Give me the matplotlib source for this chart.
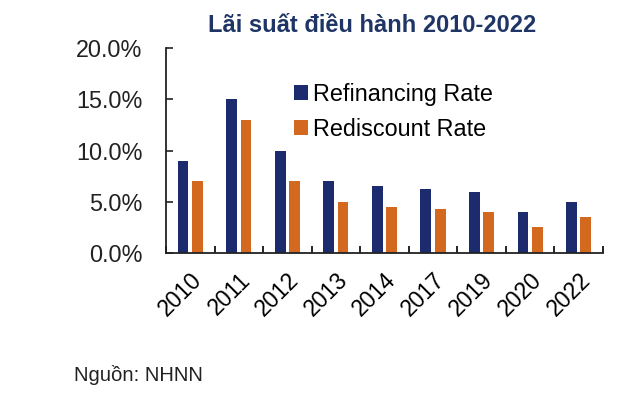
import matplotlib.pyplot as plt
import numpy as np
from matplotlib.ticker import FuncFormatter, FixedLocator

plt.rcParams["font.family"] = ["Liberation Sans", "DejaVu Sans"]

years = ["2010", "2011", "2012", "2013", "2014", "2017", "2019", "2020", "2022"]
refinancing = [9.0, 15.0, 10.0, 7.0, 6.5, 6.25, 6.0, 4.0, 5.0]
rediscount = [7.0, 13.0, 7.0, 5.0, 4.5, 4.25, 4.0, 2.5, 3.5]

blue = "#1c2a6e"
orange = "#d2691f"

fig = plt.figure(figsize=(6.3, 3.93), dpi=100)
ax = fig.add_axes([0.2635, 0.356, 0.6935, 0.522])

x = np.arange(len(years))
width = 0.22
ax.bar(x - 0.148, refinancing, width, color=blue, label="Refinancing Rate")
ax.bar(x + 0.148, rediscount, width, color=orange, label="Rediscount Rate")

ax.set_xlim(-0.5, len(years) - 0.5)
ax.set_ylim(0, 20)
ax.set_yticks([0, 5, 10, 15, 20])
ax.yaxis.set_major_formatter(FuncFormatter(lambda v, _: f"{v:.1f}%"))
ax.tick_params(axis="y", direction="in", length=5, width=1.2, pad=17, labelsize=16.8, colors="#222222")

ax.set_xticks(x)
ax.set_xticklabels(years, rotation=45, ha="right", rotation_mode="anchor", fontsize=16.5)
ax.tick_params(axis="x", which="major", length=0, pad=11)
ax.xaxis.set_minor_locator(FixedLocator(np.arange(-0.5, len(years), 1.0)))
ax.tick_params(axis="x", which="minor", direction="in", length=5, width=1.2)

for side in ["top", "right"]:
    ax.spines[side].set_visible(False)
for side in ["left", "bottom"]:
    ax.spines[side].set_linewidth(1.3)
    ax.spines[side].set_color("#222222")

ax.legend(loc="upper left", bbox_to_anchor=(0.272, 0.875), frameon=False, fontsize=16.8,
          handlelength=0.6, handleheight=0.6, handletextpad=0.2, labelspacing=0.5,
          borderaxespad=0)

fig.text(0.59, 0.934, "Lãi suất điều hành 2010-2022", ha="center", va="center",
         fontsize=17, fontweight="bold", color="#1f3566")
fig.text(0.118, 0.046, "Nguồn: NHNN", ha="left", va="center", fontsize=14.6, color="#222222")

fig.savefig("out.png", dpi=100)
